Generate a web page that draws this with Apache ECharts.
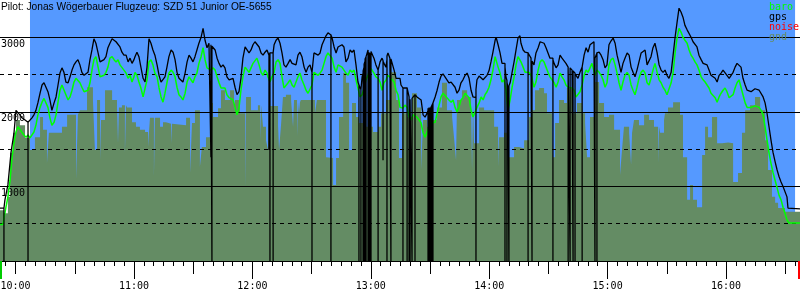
<!DOCTYPE html>
<html><head><meta charset="utf-8">
<script src="https://cdn.jsdelivr.net/npm/echarts@6/dist/echarts.min.js"></script>
<style>html,body{margin:0;padding:0;background:#fff}#c{width:800px;height:300px}</style>
</head><body><div id="c"></div>
<script>
// Time values are minutes after 10:00, altitudes in metres.
const titleText = 'Pilot: Jonas Wögerbauer Flugzeug: SZD 51 Junior OE-5655';
const legendNames = ['baro', 'gps', 'noise', 'gnd'];
const timeRange = [-7.9, 397.5];
const flightWindow = [7.3, 395.0];
const logStart = -7.4;
const logEnd = 397.0;
const hourTicks = [60, 120, 180, 240, 300, 360];
const halfHourTicks = [0, 30, 90, 150, 210, 270, 330, 390];
const timeLabelTicks = [0, 60, 120, 180, 240, 300, 360];
const altLabelTicks = [1000, 2000, 3000];

const gpsAlt = [[-7.9,710],[-5.9,710],[-5.9,0],[-5.9,710],[-5.4,820],[-3.9,1020],[-2.3,1460],[-0.8,1720],[0.2,2020],[0.7,2040],[2.2,1960],[3.2,1920],[4.8,1890],[6.3,1860],[6.3,0],[6.3,1860],[7.3,1860],[8.3,1920],[9.3,1960],[10.3,2020],[11.3,2120],[12.4,2250],[13.4,2360],[14.4,2390],[15.4,2330],[16.4,2270],[17.4,2160],[18.4,2020],[19.5,2120],[20.5,2200],[21.5,2360],[22.5,2520],[23.5,2590],[24.5,2530],[25.5,2400],[26.6,2390],[27.6,2470],[28.6,2560],[29.6,2630],[30.6,2670],[31.6,2700],[32.6,2630],[33.6,2530],[34.7,2490],[35.7,2470],[36.7,2530],[37.7,2700],[38.7,2830],[39.7,2980],[40.7,2920],[41.8,2790],[42.8,2670],[43.8,2670],[44.8,2700],[45.8,2740],[46.8,2860],[47.8,2920],[48.9,2980],[49.9,3000],[50.9,2940],[51.9,2940],[52.9,2870],[53.9,2800],[54.9,2760],[56.0,2760],[57.0,2670],[58.0,2720],[59.0,2650],[60.0,2700],[60.5,2740],[61.5,2800],[62.5,2740],[63.5,2600],[64.6,2450],[65.6,2400],[66.6,2600],[67.6,2980],[68.6,2920],[69.6,2830],[70.6,2760],[71.7,2630],[72.7,2490],[73.7,2400],[74.7,2390],[75.7,2470],[76.7,2600],[77.7,2740],[78.8,2830],[79.8,2800],[80.8,2700],[81.8,2530],[82.8,2450],[83.8,2430],[84.8,2400],[85.9,2520],[86.9,2670],[87.9,2760],[88.9,2720],[89.9,2670],[90.9,2740],[91.9,2830],[92.9,2920],[94.0,3000],[95.0,3120],[96.0,2960],[97.0,2860],[98.0,2920],[99.0,2900],[99.0,1390],[99.0,2900],[99.5,2900],[99.5,0],[99.5,2880],[100.0,2860],[101.1,2830],[102.1,2720],[103.1,2650],[104.1,2600],[105.1,2630],[106.1,2590],[107.1,2470],[108.2,2430],[109.2,2430],[110.2,2450],[111.2,2330],[112.2,2230],[113.2,2270],[114.2,2450],[115.2,2720],[116.3,2870],[117.3,2860],[118.3,2790],[119.3,2830],[120.3,2900],[121.3,2940],[122.3,2960],[123.4,2870],[124.4,2790],[125.4,2760],[126.4,2800],[127.4,2830],[128.4,2760],[128.4,1490],[128.4,2760],[128.9,2790],[128.9,0],[128.9,2790],[130.5,2790],[130.5,0],[130.5,2790],[131.0,2900],[132.0,2960],[133.0,2990],[134.0,2920],[135.0,2790],[136.0,2630],[137.0,2600],[138.1,2650],[139.1,2700],[140.1,2650],[141.1,2670],[142.1,2630],[143.1,2760],[144.1,2800],[145.1,2740],[146.2,2600],[147.2,2530],[148.2,2600],[149.2,2630],[150.2,2530],[150.2,0],[150.2,2530],[151.2,2790],[152.2,2800],[153.3,2760],[154.3,2790],[155.3,2900],[156.3,2960],[157.3,3020],[158.3,3060],[158.8,3080],[159.8,3030],[159.8,0],[159.8,3030],[160.4,2990],[161.4,2870],[162.4,2790],[163.4,2870],[164.4,2870],[165.4,2900],[166.4,2870],[167.4,2670],[168.5,2720],[169.5,2830],[170.5,2800],[171.5,2830],[172.5,2630],[173.5,2400],[174.0,2360],[174.0,0],[174.0,2360],[174.5,2330],[175.0,2300],[175.0,0],[175.0,2300],[175.6,2470],[176.1,2520],[176.1,0],[176.1,2550],[176.6,2600],[176.6,0],[176.6,2640],[177.1,2680],[177.1,0],[177.1,2710],[177.6,2740],[177.6,0],[177.6,2740],[178.6,2830],[178.6,0],[178.6,2830],[179.1,2810],[179.1,0],[179.1,2800],[179.6,2790],[179.6,0],[179.6,2790],[180.1,2810],[180.1,0],[180.1,2810],[180.6,2830],[181.6,2720],[182.6,2630],[183.7,2560],[183.7,0],[183.7,2560],[184.7,2670],[185.7,2720],[186.2,2690],[186.2,1350],[186.2,2680],[186.7,2650],[187.7,2600],[188.2,2700],[188.2,0],[188.2,2750],[188.7,2790],[189.7,2720],[190.2,2710],[190.2,0],[190.2,2710],[190.8,2700],[191.8,2560],[192.8,2450],[193.8,2430],[194.8,2450],[195.3,2360],[196.3,2320],[196.3,0],[196.3,2320],[197.3,2330],[198.4,2320],[198.4,0],[198.4,2320],[199.4,2200],[199.4,0],[199.4,2200],[199.9,2180],[199.9,0],[199.9,2170],[200.4,2160],[200.9,2170],[200.9,0],[200.9,2180],[201.4,2190],[202.4,2230],[202.4,0],[202.4,2230],[203.4,2200],[204.4,2190],[205.5,2160],[206.5,1960],[207.5,1930],[208.5,1980],[209.0,2020],[209.0,0],[209.0,2050],[209.5,2060],[209.5,0],[209.5,2060],[210.0,2060],[210.0,0],[210.0,2060],[210.5,2060],[210.5,0],[210.5,2060],[211.0,2090],[211.0,0],[211.0,2090],[211.5,2120],[211.5,0],[211.5,2120],[212.6,2200],[213.6,2290],[214.6,2400],[215.6,2480],[216.6,2510],[217.6,2520],[218.6,2430],[219.6,2390],[220.7,2400],[221.7,2400],[222.7,2330],[223.7,2250],[224.7,2290],[225.7,2390],[226.7,2430],[227.8,2490],[228.8,2520],[229.8,2450],[230.8,2290],[231.8,2200],[232.8,2190],[233.3,2190],[233.3,0],[233.3,2300],[233.8,2430],[234.9,2480],[235.9,2490],[236.9,2430],[237.9,2430],[238.9,2490],[239.9,2550],[240.9,2670],[241.9,2800],[243.0,2960],[243.5,3000],[244.5,2900],[245.5,2790],[246.5,2650],[247.5,2670],[248.0,2650],[248.0,0],[248.0,2600],[248.5,2470],[249.0,2420],[249.0,0],[249.0,2400],[249.5,2320],[250.0,2330],[250.0,0],[250.0,2350],[250.6,2390],[251.6,2530],[252.6,2670],[253.6,2830],[254.6,2990],[255.6,3020],[256.1,2920],[257.2,2830],[258.2,2800],[259.2,2790],[259.7,2790],[259.7,0],[259.7,2790],[260.2,2800],[261.2,2720],[261.7,2700],[261.7,0],[261.7,2680],[262.7,2630],[263.7,2790],[264.8,2860],[265.8,2940],[266.8,2950],[267.8,2920],[268.8,2860],[269.8,2790],[270.8,2720],[271.8,2740],[272.3,2720],[272.3,0],[272.3,2700],[272.9,2650],[273.9,2590],[274.9,2630],[275.9,2760],[276.9,2720],[277.9,2700],[278.9,2650],[280.0,2600],[280.0,0],[280.0,2600],[281.0,2590],[281.0,0],[281.0,2590],[282.0,2560],[282.5,2550],[282.5,0],[282.5,2550],[283.0,2530],[283.5,2520],[283.5,0],[283.5,2510],[284.0,2490],[285.0,2450],[286.0,2530],[287.1,2600],[287.1,0],[287.1,2600],[288.1,2760],[289.1,2860],[290.1,2800],[291.1,2900],[292.1,2920],[293.1,2940],[293.6,2940],[293.6,0],[293.6,2720],[294.6,2790],[294.6,0],[294.6,2790],[295.7,2800],[296.7,2760],[297.7,2700],[298.7,2590],[299.7,2630],[300.7,2900],[301.7,2950],[302.8,2990],[303.8,2920],[304.8,2760],[305.8,2650],[306.8,2530],[307.8,2650],[308.8,2720],[309.9,2790],[310.9,2760],[311.9,2600],[312.9,2530],[313.9,2470],[314.9,2560],[315.9,2670],[317.0,2790],[318.0,2800],[319.0,2830],[320.0,2630],[321.0,2650],[322.0,2740],[323.0,2860],[324.0,2920],[325.1,2790],[326.1,2630],[327.1,2560],[328.1,2530],[329.1,2560],[330.1,2490],[331.1,2450],[332.2,2530],[333.2,2760],[334.2,3000],[335.2,3200],[336.2,3390],[337.2,3340],[338.2,3270],[339.2,3160],[340.3,3100],[341.3,3100],[342.3,3000],[343.3,2940],[344.3,2920],[345.3,2870],[346.3,2760],[347.4,2700],[348.4,2650],[349.4,2630],[350.4,2630],[351.4,2560],[352.4,2490],[353.4,2470],[354.5,2450],[355.5,2400],[356.5,2490],[357.5,2520],[358.5,2560],[359.5,2560],[360.5,2490],[361.6,2450],[362.6,2470],[363.6,2530],[364.6,2600],[365.6,2650],[366.6,2670],[367.6,2600],[368.6,2450],[369.7,2360],[370.7,2290],[371.7,2270],[372.7,2270],[373.7,2290],[374.7,2310],[375.7,2320],[376.8,2290],[377.8,2310],[378.8,2200],[379.8,2120],[380.8,1980],[381.8,1800],[382.8,1620],[383.8,1460],[384.9,1330],[385.9,1220],[386.9,1130],[387.9,1060],[388.9,1000],[389.9,980],[390.9,860],[391.4,710],[397.5,700]];

const baroAlt = [[-7.9,490],[-6.4,490],[-4.9,720],[-3.9,860],[-2.8,1080],[-1.8,1390],[-0.8,1580],[0.2,1730],[1.2,1800],[2.2,1780],[4.2,1690],[5.3,1660],[6.3,1690],[7.3,1650],[8.3,1660],[9.3,1730],[10.3,1820],[11.3,1960],[12.4,2060],[13.4,2130],[14.4,2180],[15.4,2160],[16.4,2060],[17.4,1920],[18.4,1820],[19.5,1860],[20.5,1960],[21.5,2130],[22.5,2290],[23.5,2360],[24.5,2350],[25.5,2230],[26.6,2160],[27.6,2200],[28.6,2290],[29.6,2400],[30.6,2450],[31.6,2430],[32.6,2390],[33.6,2330],[34.7,2270],[35.7,2250],[36.7,2290],[37.7,2390],[38.7,2560],[39.7,2700],[40.7,2740],[41.8,2600],[42.8,2470],[43.8,2450],[44.8,2490],[45.8,2530],[46.8,2600],[47.8,2720],[48.9,2740],[49.9,2700],[50.9,2670],[51.9,2700],[52.9,2630],[53.9,2630],[54.9,2560],[56.0,2520],[57.0,2450],[58.0,2490],[59.0,2400],[60.0,2470],[60.5,2530],[61.5,2490],[62.5,2400],[63.5,2320],[64.6,2200],[65.6,2190],[66.6,2430],[67.6,2670],[68.6,2700],[69.6,2630],[70.6,2520],[71.7,2470],[72.7,2320],[73.7,2200],[74.7,2130],[75.7,2250],[76.7,2390],[77.7,2520],[78.8,2560],[79.8,2530],[80.8,2470],[81.8,2330],[82.8,2230],[83.8,2200],[84.8,2160],[85.9,2250],[86.9,2400],[87.9,2470],[88.9,2450],[89.9,2390],[90.9,2470],[91.9,2520],[92.9,2650],[94.0,2740],[95.0,2860],[96.0,2700],[97.0,2590],[98.0,2600],[99.0,2560],[100.0,2590],[101.1,2560],[102.1,2470],[103.1,2390],[104.1,2320],[105.1,2330],[106.1,2320],[107.1,2230],[108.2,2190],[109.2,2200],[110.2,2160],[111.2,2060],[112.2,1960],[113.2,2050],[114.2,2290],[115.2,2470],[116.3,2600],[117.3,2590],[118.3,2530],[119.3,2590],[120.3,2650],[121.3,2670],[122.3,2720],[123.4,2630],[124.4,2530],[125.4,2490],[126.4,2560],[127.4,2520],[127.9,2470],[128.9,2400],[129.9,2470],[131.0,2530],[132.0,2670],[133.0,2700],[134.0,2650],[135.0,2470],[136.0,2320],[137.0,2330],[138.1,2390],[139.1,2430],[140.1,2360],[141.1,2330],[142.1,2320],[143.1,2470],[144.1,2520],[145.1,2430],[146.2,2360],[147.2,2290],[148.2,2250],[149.2,2270],[150.2,2360],[151.2,2530],[152.2,2520],[153.3,2490],[154.3,2520],[155.3,2560],[156.3,2650],[157.3,2740],[158.3,2790],[159.3,2800],[160.4,2720],[161.4,2600],[162.4,2530],[163.4,2630],[164.4,2630],[165.4,2600],[166.4,2600],[167.4,2520],[168.5,2490],[169.5,2560],[170.5,2530],[171.5,2560],[172.5,2430],[173.5,2320],[174.5,2200],[175.6,2230],[176.6,2320],[177.6,2430],[178.6,2490],[179.6,2590],[180.6,2560],[181.6,2520],[182.6,2470],[183.7,2450],[184.7,2400],[185.7,2290],[186.7,2390],[187.7,2430],[188.7,2490],[189.7,2470],[190.8,2430],[191.8,2400],[192.8,2290],[193.8,2230],[194.8,2060],[196.3,2050],[197.3,2090],[198.4,2060],[199.4,1930],[200.4,1890],[201.4,1960],[202.4,1960],[203.4,1930],[204.4,1920],[205.5,1850],[206.5,1720],[207.5,1660],[208.5,1730],[209.5,1800],[210.5,1850],[211.5,1850],[212.6,1860],[213.6,1980],[214.6,2090],[215.6,2200],[216.6,2250],[217.6,2270],[218.6,2190],[219.6,2160],[220.7,2130],[221.7,2160],[222.7,2060],[223.7,2000],[224.7,2060],[225.7,2160],[226.7,2190],[227.8,2250],[228.8,2270],[229.8,2190],[230.8,2020],[231.8,1930],[232.8,1930],[233.8,2060],[234.9,2120],[235.9,2200],[236.9,2160],[237.9,2230],[238.9,2270],[239.9,2330],[240.9,2430],[241.9,2560],[243.0,2740],[243.5,2720],[244.5,2600],[245.5,2520],[246.5,2400],[247.5,2430],[248.5,2290],[249.5,2020],[250.6,2160],[251.6,2330],[252.6,2470],[253.6,2630],[254.6,2740],[255.6,2760],[256.1,2670],[257.2,2600],[258.2,2530],[259.2,2520],[260.2,2530],[261.2,2490],[261.7,2450],[262.7,2330],[263.7,2400],[264.8,2560],[265.8,2670],[266.8,2700],[267.8,2670],[268.8,2600],[269.8,2530],[270.8,2470],[271.8,2470],[272.9,2390],[273.9,2330],[274.9,2400],[275.9,2520],[276.9,2470],[277.9,2430],[278.9,2360],[280.0,2330],[281.0,2330],[282.0,2320],[283.0,2290],[284.0,2200],[285.0,2190],[286.0,2270],[287.1,2360],[288.1,2490],[289.1,2560],[290.1,2530],[291.1,2590],[292.1,2650],[293.1,2670],[293.6,2490],[294.6,2560],[295.7,2530],[296.7,2490],[297.7,2430],[298.7,2330],[299.7,2390],[300.7,2630],[301.7,2700],[302.8,2720],[303.8,2630],[304.8,2520],[305.8,2390],[306.8,2290],[307.8,2400],[308.8,2490],[309.9,2530],[310.9,2490],[311.9,2360],[312.9,2290],[313.9,2230],[314.9,2330],[315.9,2450],[317.0,2530],[318.0,2560],[319.0,2520],[320.0,2390],[321.0,2360],[322.0,2450],[323.0,2560],[324.0,2650],[325.1,2530],[326.1,2430],[327.1,2390],[328.1,2330],[329.1,2290],[330.1,2230],[331.1,2250],[332.2,2390],[333.2,2530],[334.2,2790],[335.2,2990],[336.2,3120],[337.2,3070],[338.2,3000],[339.2,2960],[340.3,2920],[341.3,2830],[342.3,2760],[343.3,2720],[344.3,2670],[345.3,2630],[346.3,2560],[347.4,2470],[348.4,2430],[349.4,2400],[350.4,2390],[351.4,2320],[352.4,2250],[353.4,2230],[354.5,2190],[355.5,2130],[356.5,2200],[357.5,2250],[358.5,2290],[359.5,2320],[360.5,2270],[361.6,2190],[362.6,2190],[363.6,2230],[364.6,2320],[365.6,2390],[366.6,2430],[367.6,2330],[368.6,2230],[369.7,2120],[370.7,2060],[371.7,2080],[372.7,2060],[374.7,2080],[376.8,2060],[377.8,2020],[378.8,1960],[379.8,1800],[380.8,1620],[381.8,1450],[382.8,1310],[383.8,1190],[384.9,1080],[385.9,980],[386.9,880],[387.9,820],[388.9,720],[389.9,640],[390.9,550],[391.9,510],[397.5,510]];

const gndAlt = [[-7.9,680],[-5.9,640],[-3.9,860],[-2.8,1450],[-1.3,1720],[0.2,1890],[2.2,1820],[4.8,1650],[7.3,1490],[9.8,1660],[12.4,1930],[13.9,1760],[15.9,1310],[16.9,1720],[23.5,1800],[26.1,1960],[30.6,1080],[31.6,1960],[32.6,2020],[36.2,2330],[39.2,2160],[40.2,1490],[41.3,2160],[42.8,1350],[43.3,1890],[45.3,2290],[48.9,2160],[51.4,2060],[51.9,1580],[52.4,2060],[53.9,2090],[55.4,1450],[56.0,2090],[56.5,2060],[59.0,1860],[61.0,1800],[63.0,1760],[65.6,1730],[67.1,1530],[67.6,1730],[68.1,1920],[70.1,1130],[70.6,1920],[73.2,1800],[74.7,1860],[76.2,1840],[78.8,1580],[79.3,1840],[79.8,1820],[86.4,1920],[88.4,1180],[89.4,1850],[90.9,2020],[93.4,1260],[94.4,1530],[96.5,1660],[98.5,2120],[100.0,1930],[102.6,2050],[104.1,2290],[106.1,2160],[108.7,2290],[110.7,2020],[111.2,2160],[113.7,1980],[116.3,990],[116.8,2200],[119.3,2020],[122.8,2090],[123.9,1620],[124.4,2090],[125.4,1800],[126.9,1620],[127.9,1490],[128.4,2080],[133.0,1820],[133.5,1490],[134.5,1820],[135.5,2200],[137.0,2230],[139.6,2160],[140.6,1800],[141.1,2160],[142.6,1660],[143.1,2130],[143.6,1980],[144.1,2130],[144.6,2160],[151.7,1980],[152.7,2160],[157.3,1390],[158.3,1380],[160.9,1020],[162.4,1380],[163.9,1930],[166.0,2520],[167.4,2390],[169.0,1490],[170.5,2120],[172.5,1930],[174.0,1850],[177.6,1800],[181.1,1730],[183.7,1800],[185.2,1980],[187.7,2160],[190.2,2530],[192.8,2160],[194.3,1380],[195.8,1980],[198.4,1930],[200.9,2250],[203.4,2060],[205.5,1220],[206.5,1890],[208.5,1800],[211.0,1890],[213.6,2060],[216.1,2390],[218.6,2020],[221.2,1930],[222.2,1650],[223.2,1350],[223.7,2160],[226.2,2290],[228.8,2200],[230.8,2120],[231.3,1220],[231.8,2120],[232.3,1580],[234.9,2060],[237.4,2020],[242.5,1800],[244.5,1260],[245.0,1660],[247.5,1720],[250.0,1390],[252.6,1530],[255.1,1510],[257.7,1620],[260.2,1930],[261.7,2020],[263.2,2290],[265.3,2320],[267.8,2250],[269.3,1980],[271.8,1760],[272.3,1390],[273.4,1850],[275.4,2160],[277.9,2120],[279.4,2320],[282.0,1980],[284.5,2120],[287.1,1980],[288.6,1850],[289.6,1390],[291.1,1930],[293.6,2400],[295.7,2120],[298.2,1930],[300.7,1960],[303.3,1760],[306.3,1150],[307.3,1490],[308.3,1800],[310.9,1720],[311.9,1290],[312.4,1720],[313.4,1890],[315.9,1820],[318.5,1960],[321.0,1890],[323.5,1800],[325.6,1310],[326.1,1800],[326.6,1720],[328.6,1890],[329.1,1980],[330.6,2060],[333.2,2130],[336.7,1960],[338.2,1390],[340.3,820],[341.8,1020],[343.3,820],[345.3,720],[347.9,1420],[349.4,1800],[350.9,1660],[352.9,1930],[355.5,1580],[358.0,1590],[361.1,1580],[363.6,1060],[366.1,1180],[368.1,1720],[369.7,2020],[372.2,2090],[374.7,2200],[377.3,2020],[379.8,1620],[381.3,1220],[383.3,860],[384.9,780],[386.4,710],[389.9,660],[397.5,660]];

const skyTop = 3500;

const fiveMinTicks = [];
for (let m = -5; m <= 395; m += 5) fiveMinTicks.push(m);

const monoFont = '"DejaVu Sans Mono", "Liberation Mono", monospace';
function clock(v) {
  const m = Math.round(v);
  const h = 10 + Math.floor(m / 60);
  const mm = ((m % 60) + 60) % 60;
  return h + ':' + String(mm).padStart(2, '0');
}

function tickAxis(values, len, color, width, extra) {
  return Object.assign({
    type: 'value', gridIndex: 0, min: timeRange[0], max: timeRange[1], position: 'bottom', z: 6,
    axisLine: { show: false },
    axisTick: { show: true, customValues: values, length: len, lineStyle: { color: color, width: width } },
    axisLabel: { show: false },
    splitLine: { show: false }
  }, extra || {});
}

const chart = echarts.init(document.getElementById('c'), null, { renderer: 'canvas' });
chart.setOption({
  animation: false,
  backgroundColor: '#ffffff',
  title: {
    text: titleText, left: 1, top: 2, padding: 0,
    textStyle: { fontSize: 10.2, fontWeight: 'normal', fontFamily: '"Liberation Sans", Arial, sans-serif', color: '#000' },
    z: 20
  },
  grid: { left: 0, right: 0, top: 0, bottom: 39, containLabel: false, outerBoundsMode: 'none' },
  xAxis: [
    tickAxis(fiveMinTicks, 5, '#000', 1, {
      axisLine: { show: true, lineStyle: { color: '#000', width: 1 } },
      axisLabel: {
        show: true, customValues: timeLabelTicks, formatter: clock, margin: 20,
        color: '#000', fontSize: 10, fontFamily: monoFont, verticalAlign: 'top'
      }
    }),
    tickAxis(halfHourTicks, 13, '#000', 1),
    tickAxis(hourTicks, 18, '#000', 1),
    tickAxis([logStart], 18, '#00cc00', 2),
    tickAxis([logEnd], 18, '#ff0000', 2)
  ],
  yAxis: [
    {
      type: 'value', min: 0, max: 3500, interval: 500, z: 3,
      axisLine: { show: false }, axisTick: { show: false }, axisLabel: { show: false },
      splitLine: { show: true, showMaxLine: false, showMinLine: false, lineStyle: { color: '#000', width: 1, type: [4, 4] } }
    },
    {
      type: 'value', min: 0, max: 3500, interval: 1000, z: 3, position: 'left',
      axisLine: { show: false }, axisTick: { show: false },
      axisLabel: {
        show: true, inside: true, customValues: altLabelTicks, margin: 1, align: 'left',
        formatter: function (v) { return String(v); },
        verticalAlign: 'top', padding: [2, 0, 0, 0], color: '#000', fontSize: 10, fontFamily: monoFont
      },
      splitLine: { show: true, showMaxLine: false, showMinLine: false, lineStyle: { color: '#000', width: 1, type: 'solid' } }
    }
  ],
  series: [
    {
      name: 'sky', type: 'line', xAxisIndex: 0, yAxisIndex: 0, z: 1,
      data: [[flightWindow[0], skyTop], [flightWindow[1], skyTop]],
      showSymbol: false, lineStyle: { width: 0 }, areaStyle: { color: '#5599ff', opacity: 1 }, silent: true
    },
    {
      name: 'gnd', type: 'line', step: 'end', xAxisIndex: 0, yAxisIndex: 0, z: 2,
      data: gndAlt, showSymbol: false, lineStyle: { width: 0 },
      areaStyle: { color: '#648c64', opacity: 1 }
    },
    {
      name: 'baro', type: 'line', xAxisIndex: 0, yAxisIndex: 0, z: 4,
      data: baroAlt, showSymbol: false, lineStyle: { color: '#00ff00', width: 1.5 }
    },
    {
      name: 'gps', type: 'line', xAxisIndex: 0, yAxisIndex: 0, z: 5,
      data: gpsAlt, showSymbol: false, lineStyle: { color: '#000000', width: 1.3 }
    }
  ],
  graphic: legendNames.map(function (name, i) {
    const colors = { baro: '#00ff00', gps: '#000000', noise: '#ff0000', gnd: '#648c64' };
    return {
      type: 'text', x: 769, y: 2 + i * 10, z: 30,
      style: { text: name, fill: colors[name], font: '10px ' + monoFont, verticalAlign: 'top', align: 'left' }
    };
  })
});
</script>
</body></html>
